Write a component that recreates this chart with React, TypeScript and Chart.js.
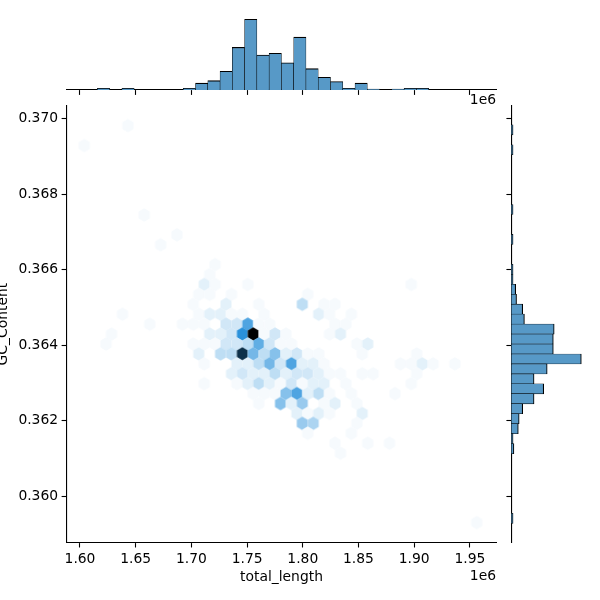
import React, { useEffect, useRef } from "react";
import { Chart, registerables } from "chart.js";

Chart.register(...registerables);

// ---- data ----
const xTickValues = [1600000, 1650000, 1700000, 1750000, 1800000, 1850000, 1900000, 1950000];
const yTickValues = [0.36, 0.362, 0.364, 0.366, 0.368, 0.37];

// Hexbin lattice: each row holds its half-step column numbers and the counts.
const hexRows = [-2, 0, 7, 9, 10, 12, 13, 14, 15, 16, 17, 18, 19, 20, 21, 22, 23, 24, 25, 26, 27, 28, 29, 30, 31, 38];
const hexCols = [
  [8], [0], [11], [17], [14], [24], [23],
  [22, 24, 30, 60],
  [21, 23, 27, 41],
  [20, 26, 32, 40, 44, 46],
  [7, 21, 23, 25, 27, 29, 33, 43, 45, 49],
  [12, 18, 20, 22, 26, 28, 30, 32, 34, 46, 48],
  [5, 23, 25, 27, 29, 31, 33, 35, 37, 45, 47],
  [4, 20, 22, 24, 26, 28, 30, 32, 34, 36, 38, 50, 52],
  [21, 25, 27, 29, 31, 33, 35, 37, 39, 41, 43, 51, 61],
  [22, 28, 30, 32, 34, 36, 38, 40, 42, 44, 58, 60, 62, 64, 68],
  [27, 29, 31, 33, 35, 37, 39, 41, 43, 45, 47, 51, 53, 61],
  [22, 28, 30, 32, 34, 36, 38, 40, 42, 44, 48, 60],
  [31, 33, 35, 37, 39, 41, 43, 45, 49, 57],
  [32, 36, 38, 40, 44, 46, 50],
  [39, 41, 43, 45, 51],
  [40, 42, 50],
  [41, 49],
  [46, 52, 56],
  [47],
  [72],
];
const hexCounts = [
  [1], [1], [1], [1], [1], [1], [1],
  [3, 1, 1, 1],
  [1, 1, 1, 1],
  [1, 3, 1, 7, 1, 1],
  [1, 1, 3, 3, 1, 1, 1, 3, 1, 1],
  [1, 1, 1, 1, 5, 5, 19, 1, 1, 1, 1],
  [1, 3, 3, 5, 23, 47, 1, 5, 1, 1, 3],
  [1, 1, 1, 1, 5, 5, 7, 17, 5, 1, 1, 1, 3],
  [3, 7, 7, 39, 15, 7, 13, 3, 5, 1, 1, 1, 1],
  [1, 3, 3, 7, 15, 5, 19, 3, 3, 1, 1, 1, 3, 1, 1],
  [3, 5, 3, 3, 7, 3, 5, 5, 3, 1, 1, 1, 1, 1],
  [1, 1, 3, 7, 3, 1, 5, 1, 3, 3, 1, 1],
  [1, 1, 1, 13, 19, 3, 7, 1, 1, 1],
  [1, 13, 3, 11, 1, 3, 1],
  [3, 1, 3, 1, 3],
  [11, 9, 1],
  [1, 1],
  [1, 1, 1],
  [1],
  [1],
];
const hexMaxCount = 47;

const topBinCenters = [
  1610080, 1621100, 1632110, 1643130, 1654140, 1665160, 1676170, 1687190, 1698200, 1709220, 1720230,
  1731250, 1742260, 1753280, 1764290, 1775310, 1786320, 1797340, 1808350, 1819370, 1830380, 1841400,
  1852410, 1863430, 1874440, 1885460, 1896470, 1907490, 1918500, 1929520, 1940530, 1951550,
];
const topBinCounts = [0, 2, 0, 2, 0, 0, 0, 0, 2, 8, 11, 22, 50, 83, 41, 43, 32, 62, 25, 15, 10, 2, 8, 1, 0, 1, 2, 2, 0, 0, 0, 0];

const rightBinCenters = [
  0.369708, 0.369444, 0.36918, 0.368916, 0.368652, 0.368388, 0.368124, 0.36786, 0.367596, 0.367332,
  0.367068, 0.366804, 0.36654, 0.366276, 0.366012, 0.365748, 0.365484, 0.36522, 0.364956, 0.364692,
  0.364428, 0.364164, 0.3639, 0.363636, 0.363372, 0.363108, 0.362844, 0.36258, 0.362316, 0.362052,
  0.361788, 0.361524, 0.36126, 0.360996, 0.360732, 0.360468, 0.360204, 0.35994, 0.359676, 0.359412,
];
const rightBinCounts = [
  2, 0, 2, 0, 0, 0, 0, 0, 2, 0, 0, 2, 0, 0, 2, 2, 5, 6, 13, 15, 49, 48, 48, 80, 41, 26, 37, 26, 13, 9, 8, 2, 3, 0, 0, 0, 0, 0, 0, 2,
];

// ---- lattice and layout ----
const hexX0 = 1603860;
const hexXStep = 4892.5;
const hexY0 = 0.369292;
const hexYStep = 0.00026294;

const xMin = 1587881;
const xMax = 1973900;
const yMin = 0.35877;
const yMax = 0.37035;

const barFill = "rgb(87,153,199)";
const FONT = '"DejaVu Sans"';
const FONT_SIZE = 13.89;

function hexCanvas(count: number) {
  const c = document.createElement("canvas");
  c.width = 14;
  c.height = 16;
  const g = c.getContext("2d")!;
  const hw = 5.5;
  const hh = 6.85;
  g.beginPath();
  g.moveTo(7, 8 - hh);
  g.lineTo(7 + hw, 8 - hh / 2);
  g.lineTo(7 + hw, 8 + hh / 2);
  g.lineTo(7, 8 + hh);
  g.lineTo(7 - hw, 8 + hh / 2);
  g.lineTo(7 - hw, 8 - hh / 2);
  g.closePath();
  const l = 100 * (1 - count / hexMaxCount);
  g.fillStyle = `hsl(205, 71%, ${l}%)`;
  g.fill();
  return c;
}

function offsetTextPlugin(y: number) {
  return {
    id: "offsetText",
    afterDraw(chart: any) {
      const g = chart.ctx;
      g.save();
      g.font = `${FONT_SIZE}px ${FONT}`;
      g.fillStyle = "#000";
      g.textAlign = "right";
      g.textBaseline = "middle";
      g.fillText("1e6", 496, y);
      g.restore();
    },
  };
}

const axisLine = { display: true, color: "#000", width: 1.1 };
const axisGrid = { display: true, drawOnChartArea: false, drawTicks: true, tickLength: 4.9, tickColor: "#000", tickWidth: 1.1, offset: false };
const noAnim = { animation: false as const, responsive: false, devicePixelRatio: 1 };
const noPlugins = { legend: { display: false }, tooltip: { enabled: false }, title: { display: false } };

export default function App() {
  const mainRef = useRef<HTMLCanvasElement>(null);
  const topRef = useRef<HTMLCanvasElement>(null);
  const rightRef = useRef<HTMLCanvasElement>(null);

  useEffect(() => {
    Chart.defaults.font.family = FONT;
    Chart.defaults.font.size = FONT_SIZE;

    const points: any[] = [];
    const styles: any[] = [];
    const cache: Record<number, HTMLCanvasElement> = {};
    hexRows.forEach((r, i) => {
      hexCols[i].forEach((h, j) => {
        const n = hexCounts[i][j];
        cache[n] = cache[n] || hexCanvas(n);
        points.push({ x: hexX0 + h * hexXStep, y: hexY0 - r * hexYStep });
        styles.push(cache[n]);
      });
    });

    const main = new Chart(mainRef.current!, {
      type: "scatter",
      data: { datasets: [{ data: points, pointStyle: styles, pointRadius: 6, clip: false }] },
      options: {
        ...noAnim,
        layout: { padding: { top: 105.6, right: 103.5, left: 0, bottom: 0 } },
        plugins: noPlugins,
        scales: {
          x: {
            type: "linear",
            min: xMin,
            max: xMax,
            border: axisLine,
            grid: axisGrid,
            afterBuildTicks: (s: any) => { s.ticks = xTickValues.map((value) => ({ value })); },
            afterFit: (s: any) => { s.height = 57.4; },
            ticks: {
              color: "#000",
              padding: 3.5,
              autoSkip: false,
              maxRotation: 0,
              callback: (v: any) => (Number(v) / 1e6).toFixed(2),
            },
            title: { display: true, text: "total_length", color: "#000", padding: { top: 0, bottom: 14.7 } },
          },
          y: {
            type: "linear",
            min: yMin,
            max: yMax,
            border: axisLine,
            grid: axisGrid,
            afterBuildTicks: (s: any) => { s.ticks = yTickValues.map((value) => ({ value })); },
            afterFit: (s: any) => { s.width = 66.5; },
            ticks: {
              color: "#000",
              padding: 3.5,
              autoSkip: false,
              callback: (v: any) => Number(v).toFixed(3),
            },
            title: { display: true, text: "GC_Content", color: "#000", padding: { top: -5, bottom: 0 } },
          },
        },
      },
      plugins: [offsetTextPlugin(576)],
    } as any);

    const top = new Chart(topRef.current!, {
      type: "bar",
      data: {
        datasets: [{
          data: topBinCenters.map((x, i) => ({ x, y: topBinCounts[i] })),
          backgroundColor: barFill,
          borderColor: "#000",
          borderWidth: { top: 1.1, left: 0.55, right: 0.55, bottom: 0 },
          borderSkipped: false,
          barPercentage: 1,
          categoryPercentage: 1,
        }],
      },
      options: {
        ...noAnim,
        layout: { padding: { top: 15.6, right: 103.5, left: 66.5, bottom: 0 } },
        plugins: noPlugins,
        scales: {
          x: {
            type: "linear",
            min: xMin,
            max: xMax,
            offset: false,
            border: axisLine,
            grid: axisGrid,
            afterBuildTicks: (s: any) => { s.ticks = xTickValues.map((value) => ({ value })); },
            afterFit: (s: any) => { s.height = 510; },
            ticks: { display: false, autoSkip: false, maxRotation: 0 },
          },
          y: { type: "linear", min: 0, max: 87.3, display: false },
        },
      },
      plugins: [offsetTextPlugin(100)],
    } as any);

    const right = new Chart(rightRef.current!, {
      type: "bar",
      data: {
        datasets: [{
          data: rightBinCenters.map((y, i) => ({ y, x: rightBinCounts[i] })),
          backgroundColor: barFill,
          borderColor: "#000",
          borderWidth: { right: 1.1, top: 0.55, bottom: 0.55, left: 0 },
          borderSkipped: false,
          barPercentage: 1,
          categoryPercentage: 1,
        }],
      },
      options: {
        ...noAnim,
        indexAxis: "y",
        layout: { padding: { top: 105.6, right: 15, left: 0, bottom: 57.4 } },
        plugins: noPlugins,
        scales: {
          y: {
            type: "linear",
            min: yMin,
            max: yMax,
            offset: false,
            border: axisLine,
            grid: axisGrid,
            afterBuildTicks: (s: any) => { s.ticks = yTickValues.map((value) => ({ value })); },
            afterFit: (s: any) => { s.width = 511.3; },
            ticks: { display: false, autoSkip: false },
          },
          x: { type: "linear", min: 0, max: 84.2, display: false },
        },
      },
    } as any);

    return () => {
      main.destroy();
      top.destroy();
      right.destroy();
    };
  }, []);

  const layer: React.CSSProperties = { position: "absolute", left: 0, top: 0, display: "block" };
  return (
    <div style={{ position: "fixed", left: 0, top: 0, width: 600, height: 600, background: "#fff" }}>
      <canvas ref={mainRef} width={600} height={600} style={layer} />
      <canvas ref={topRef} width={600} height={600} style={layer} />
      <canvas ref={rightRef} width={600} height={600} style={layer} />
    </div>
  );
}
